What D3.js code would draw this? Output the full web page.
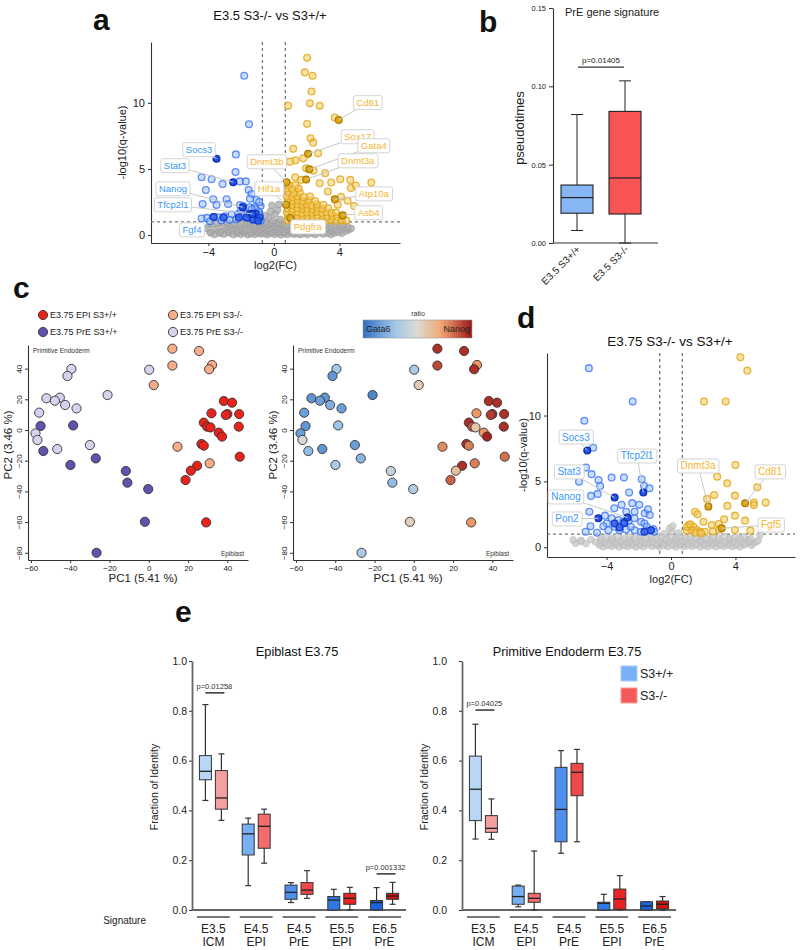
<!DOCTYPE html>
<html>
<head>
<meta charset="utf-8">
<script src="https://cdn.jsdelivr.net/npm/d3@7"></script>
<style>
  body { margin: 0; background: #fff; }
  text { font-family: "Liberation Sans", Arial, sans-serif; }
</style>
</head>
<body>
<svg id="fig" width="800" height="950"></svg>
<script>
// ---------- panel a : volcano E3.5 ----------
const volcAGray = [
  [-3.62,0.04],[-3.05,0.07],[-2.48,0.03],[-2.02,0.06],[-1.58,0.02],[-1.18,0.05],[-0.79,0.08],[-0.41,0.03],[0.02,0.06],[0.43,0.02],[0.81,0.05],[1.22,0.07],[1.63,0.03],[2.04,0.05],[2.52,0.04],[3.01,0.08],[3.48,0.05],
  [-3.85,0.15],[-3.3,0.13],[-2.75,0.17],[-2.25,0.14],[-1.8,0.16],[-1.4,0.12],[-1.0,0.17],[-0.6,0.14],[-0.2,0.16],[0.22,0.13],[0.62,0.17],[1.02,0.15],[1.42,0.12],[1.85,0.16],[2.3,0.14],[2.75,0.17],[3.22,0.13],[3.7,0.16],[4.15,0.14],
  [-3.92,0.27],[-3.31,0.22],[-2.77,0.29],[-2.23,0.24],[-1.82,0.28],[-1.39,0.21],[-0.98,0.26],[-0.61,0.3],[-0.18,0.23],[0.21,0.27],[0.62,0.22],[1.03,0.29],[1.41,0.24],[1.88,0.26],[2.39,0.21],[2.93,0.28],[3.42,0.25],[3.91,0.22],[4.38,0.3],
  [-3.7,0.4],[-3.2,0.38],[-2.7,0.42],[-2.25,0.37],[-1.75,0.41],[-1.3,0.39],[-0.88,0.43],[-0.45,0.38],[-0.05,0.41],[0.35,0.37],[0.75,0.42],[1.15,0.39],[1.58,0.41],[2.05,0.38],[2.55,0.42],[3.05,0.37],[3.55,0.4],[4.05,0.43],[4.55,0.38],
  [-4.12,0.52],[-3.48,0.47],[-2.97,0.55],[-2.51,0.49],[-1.98,0.53],[-1.52,0.46],[-1.08,0.51],[-0.69,0.56],[-0.27,0.48],[0.12,0.53],[0.48,0.47],[0.92,0.55],[1.31,0.5],[1.79,0.46],[2.28,0.54],[2.81,0.49],[3.32,0.52],[3.79,0.47],[4.31,0.55],[4.72,0.5],
  [-3.95,0.64],[-3.35,0.62],[-2.8,0.66],[-2.3,0.61],[-1.8,0.65],[-1.35,0.63],[-0.95,0.67],[-0.55,0.62],[-0.12,0.65],[0.28,0.61],[0.68,0.66],[1.08,0.63],[1.5,0.65],[1.98,0.62],[2.48,0.66],[2.98,0.61],[3.48,0.64],[3.98,0.67],[4.5,0.63],
  [-3.78,0.77],[-3.18,0.72],[-2.62,0.79],[-2.08,0.74],[-1.61,0.78],[-1.19,0.71],[-0.82,0.76],[-0.38,0.8],[0.03,0.73],[0.41,0.78],[0.79,0.74],[1.22,0.79],[1.71,0.72],[2.19,0.77],[2.72,0.74],[3.18,0.79],[3.71,0.73],[4.22,0.78],
  [-3.45,0.88],[-2.42,0.86],[-1.78,0.9],[-1.18,0.87],[-0.7,0.91],[-0.3,0.86],[0.1,0.89],[0.5,0.88],
  [-2.83,0.95],[-2.02,0.92],[-1.41,0.97],[-0.91,0.94],[-0.48,0.98],[-0.12,0.93],[0.29,0.96],
  [-0.31,1.32],[0.08,1.61],[-0.12,2.25],[0.22,1.88],[-0.52,1.48],[0.39,1.19],[-0.21,1.79],[0.31,2.32],[-0.05,1.1]
];
const volcADown = [
  [-1.81,12.05],[-1.52,8.38],[-2.32,6.1],[-2.34,4.77],[-2.07,4.06],[-1.71,4.06],[-4.41,4.37],[-3.8,4.22],[-3.13,3.86],[-4.15,3.41],
  [-1.54,3.41],[-1.36,3.1],[-1.06,2.65],[-1.46,2.75],[-3.7,2.7],[-2.89,2.7],[-2.79,2.35],[-4.35,2.35],[-3.5,2.27],[-2.07,2.27],
  [-1.87,2.2],[-1.46,2.1],[-1.16,2.1],[-0.81,2.2],[-0.94,1.77],[-1.26,1.7],[-1.67,1.6],[-2.17,1.6],[-2.58,1.55],[-2.99,1.42],
  [-3.4,1.35],[-3.7,1.37],[-4.1,1.3],[-4.41,1.25],[-3.9,1.05],[-0.85,1.5],[-1.0,1.25],[-0.8,1.1],[-1.3,1.15],[-1.55,1.3],
  [-2.3,1.2],[-2.7,1.15],[-3.2,1.1],[-1.9,1.45],[-0.9,2.5],[-1.1,1.95],[-1.35,1.95],[-2.0,1.9]
];
const volcADownStrong = [[-3.67,1.37],[-3.08,1.33],[-2.14,1.33],[-1.48,1.58],[-1.12,1.63],[-0.87,1.33],[-1.27,1.2],[-1.67,1.33],[-0.97,1.08]];
const volcAUp = [
  [2.03,13.4],[1.89,12.3],[2.36,12.05],[2.3,10.86],[2.2,9.97],[2.8,9.77],[0.87,9.77],[2.03,8.41],[3.72,8.89],[2.24,7.32],
  [2.4,6.99],[1.18,6.52],[2.7,6.19],[1.8,5.8],[1.32,5.65],[0.99,5.55],[1.97,5.05],[2.42,4.87],[3.13,4.67],[4.05,4.22],
  [4.66,4.17],[1.3,4.37],[1.67,4.17],[2.8,3.92],[3.5,3.97],[4.7,3.55],[5.0,3.74],[5.95,3.97],[3.3,3.3],[4.1,2.9],[4.5,2.6],[4.9,2.2],[3.9,2.3],
  [0.81,1.08],[1.12,1.12],[1.43,1.06],[1.71,1.13],[2.02,1.09],[2.31,1.14],[2.62,1.07],[2.91,1.11],[3.22,1.08],[3.51,1.13],[3.82,1.06],[4.11,1.12],[4.42,1.09],
  [0.86,1.38],[1.16,1.42],[1.47,1.36],[1.74,1.43],[2.06,1.39],[2.37,1.41],[2.66,1.37],[2.97,1.44],[3.26,1.38],[3.57,1.42],[3.86,1.36],[4.18,1.41],
  [0.79,1.72],[1.11,1.68],[1.42,1.73],[1.69,1.67],[2.01,1.71],[2.32,1.69],[2.61,1.74],[2.92,1.68],[3.21,1.72],[3.52,1.67],[3.79,1.71],
  [0.84,2.02],[1.14,1.97],[1.46,2.03],[1.76,1.98],[2.04,2.01],[2.36,1.96],[2.66,2.04],[2.96,1.99],[3.31,2.02],
  [0.81,2.31],[1.09,2.27],[1.41,2.33],[1.72,2.28],[2.01,2.32],[2.29,2.26],[2.62,2.31],[3.02,2.29],
  [0.86,2.62],[1.17,2.57],[1.46,2.63],[1.77,2.58],[2.12,2.61],[2.51,2.57],
  [0.79,2.91],[1.12,2.87],[1.41,2.93],[1.82,2.88],[2.21,2.92],
  [0.87,3.22],[1.21,3.17],[1.58,3.21],[0.81,3.52],[1.12,3.48],[1.51,3.53],[0.91,3.81],[1.31,3.77]
];
// gene, point (x,y), label position (lx,ly) in data units
const volcALabels = [
  {gene:"Cd81",    x:3.96,  y:8.71, lx:5.73,  ly:10.0},
  {gene:"Sox17",   x:2.09,  y:6.14, lx:5.12,  ly:7.42},
  {gene:"Gata4",   x:2.16,  y:4.97, lx:6.1,   ly:6.74},
  {gene:"Dnmt3a",  x:1.97,  y:4.2,  lx:5.12,  ly:5.6},
  {gene:"Atp10a",  x:3.72,  y:2.7,  lx:6.1,   ly:3.1},
  {gene:"Asb4",    x:4.2,   y:1.5,  lx:5.79,  ly:1.67},
  {gene:"Pdgfra",  x:1.0,   y:1.3,  lx:2.07,  ly:0.6},
  {gene:"Hif1a",   x:0.75,  y:2.3,  lx:-0.3,  ly:3.48},
  {gene:"Dnmt3b",  x:0.78,  y:4.0,  lx:-0.43, ly:5.53},
  {gene:"Socs3",   x:-3.5,  y:5.78, lx:-4.57, ly:6.44},
  {gene:"Stat3",   x:-2.48, y:4.0,  lx:-6.04, ly:5.23},
  {gene:"Nanog",   x:-1.9,  y:2.1,  lx:-6.16, ly:3.48},
  {gene:"Tfcp2l1", x:-1.3,  y:1.6,  lx:-6.16, ly:2.27},
  {gene:"Fgf4",    x:-3.0,  y:0.6,  lx:-5.0,  ly:0.38}
];

// ---------- panel b : PrE gene signature ----------
const bGroups = ["E3.5 S3+/+", "E3.5 S3-/-"];
const bStats = [              // [min, q1, median, q3, max]
  [0.008, 0.019, 0.029, 0.037, 0.082],
  [0.0, 0.0185, 0.0415, 0.084, 0.1035]
];
const bPValue = {label: "p=0.01405", y: 0.1123};

// ---------- panel c : PCA ----------
const pcaGroups = ["E3.75 EPI S3+/+", "E3.75 EPI S3-/-", "E3.75 PrE S3+/+", "E3.75 PrE S3-/-"];
const pcaPC1 = [
  38.2,42.4,31.9,40.0,39.2,46.0,28.0,29.7,31.4,45.8,35.6,37.3,26.8,28.0,46.3,24.6,21.4,18.7,29.2,
  12.0,25.6,12.0,32.2,30.7,2.5,14.6,31.0,
  -55.1,-38.5,-53.7,-39.9,-27.0,-11.7,-10.9,-0.3,-2.0,-26.6,
  -39.4,-41.4,-52.1,-45.3,-47.8,-42.6,-36.8,-21.0,-55.8,-57.7,-56.7,-46.6,-30.0,0.2
];
const pcaPC2 = [
  18.9,17.8,10.9,10.4,9.8,10.4,4.8,2.2,1.7,2.2,-1.7,-4.3,-9.1,-10.2,-17.4,-23.3,-26.5,-32.6,-60.2,
  53.0,51.5,42.0,42.4,39.6,29.3,-10.9,-21.7,
  2.6,3.0,-13.7,-22.8,-18.5,-26.7,-34.3,-38.5,-59.8,-80.0,
  39.8,35.2,20.7,21.1,19.1,16.3,14.1,22.8,11.3,-2.2,-6.5,-12.4,-9.8,39.3
];
const pcaGroup = [
  0,0,0,0,0,0,0,0,0,0,0,0,0,0,0,0,0,0,0,
  1,1,1,1,1,1,1,1,
  2,2,2,2,2,2,2,2,2,2,
  3,3,3,3,3,3,3,3,3,3,3,3,3,3
];
// Nanog/Gata6 ratio, -1 = Gata6, +1 = Nanog
const pcaRatio = [
  0.9,0.9,0.5,0.9,0.85,0.9,0.9,0.75,0.2,0.9,0.5,0.95,0.9,0.6,0.65,0.9,0.25,0.7,0.5,
  0.9,0.9,0.8,0.5,0.9,0.15,0.55,0.6,
  -0.75,-0.45,-0.5,-0.35,-0.55,-0.15,-0.5,-0.3,0.1,-0.35,
  -0.4,-0.75,-0.75,-0.75,-0.7,-0.6,-0.7,-0.85,-0.7,-0.7,-0.05,-0.75,-0.7,-0.35
];

// ---------- panel d : volcano E3.75 ----------
const volcDGray = [
  [-4.21,0.04],[-3.68,0.07],[-3.22,0.03],[-2.71,0.06],[-2.19,0.02],[-1.72,0.05],[-1.18,0.08],[-0.71,0.03],[-0.22,0.06],[0.31,0.02],[0.79,0.05],[1.32,0.07],[1.81,0.03],[2.28,0.05],[2.79,0.04],[3.31,0.08],[3.82,0.05],[4.28,0.03],
  [-4.45,0.17],[-3.95,0.15],[-3.45,0.18],[-2.95,0.14],[-2.45,0.17],[-1.95,0.15],[-1.45,0.18],[-0.95,0.14],[-0.45,0.17],[0.05,0.15],[0.55,0.18],[1.05,0.14],[1.55,0.17],[2.05,0.15],[2.55,0.18],[3.05,0.14],[3.55,0.17],[4.05,0.15],[4.55,0.18],[5.0,0.15],
  [-5.92,0.31],[-5.28,0.27],[-4.41,0.33],[-3.88,0.28],[-3.42,0.32],[-2.91,0.26],[-2.38,0.31],[-1.92,0.29],[-1.41,0.33],[-0.88,0.27],[-0.42,0.3],[0.12,0.28],[0.61,0.32],[1.09,0.27],[1.62,0.31],[2.11,0.29],[2.58,0.33],[3.12,0.27],[3.61,0.3],[4.09,0.32],[4.62,0.28],[5.11,0.31],
  [-5.6,0.43],[-4.7,0.41],[-4.15,0.44],[-3.62,0.4],[-3.15,0.43],[-2.65,0.41],[-2.15,0.45],[-1.65,0.4],[-1.15,0.43],[-0.65,0.42],[-0.15,0.44],[0.35,0.4],[0.85,0.43],[1.35,0.41],[1.85,0.45],[2.35,0.4],[2.85,0.43],[3.35,0.41],[3.85,0.44],[4.35,0.4],[4.85,0.43],[5.3,0.41],
  [-6.08,0.56],[-5.58,0.52],[-4.98,0.58],[-4.31,0.53],[-3.71,0.57],[-3.08,0.51],[-2.52,0.56],[-1.88,0.53],[-1.31,0.58],[-0.79,0.52],[-0.28,0.55],[0.21,0.57],[0.72,0.52],[1.19,0.56],[1.82,0.53],[2.41,0.58],[2.98,0.52],[3.62,0.56],[4.18,0.54],[4.81,0.57],[5.42,0.53],
  [-4.35,0.68],[-3.65,0.7],[-2.95,0.66],[-2.25,0.69],[-1.55,0.67],[-0.9,0.7],[-0.3,0.66],[0.3,0.69],[0.9,0.67],[1.55,0.7],[2.25,0.66],[2.95,0.69],[3.65,0.67],[4.3,0.7],[4.95,0.66],
  [-4.02,0.79],[-3.31,0.82],[-2.58,0.77],[-1.91,0.81],[-1.22,0.78],[-0.61,0.83],[0.02,0.79],[0.58,0.82],[1.21,0.77],[1.88,0.81],[2.62,0.78],[3.31,0.82],[3.98,0.77],[4.52,0.8],
  [0.05,1.21],[-0.08,1.45],[0.11,1.62],[0.48,1.09],[-0.41,1.04],[5.52,0.94]
];
const volcDDown = [
  [-5.1,13.6],[-2.38,11.06],[-5.38,9.61],[-4.83,7.56],[-5.28,6.05],[-4.93,5.55],[-5.71,4.98],[-4.5,5.1],[-4.4,4.65],[-3.69,5.3],
  [-2.92,5.3],[-4.55,4.05],[-4.97,3.9],[-2.6,4.15],[-1.82,5.16],[-1.67,4.65],[-1.34,4.48],[-5.07,2.7],[-4.1,2.4],[-3.52,2.96],
  [-3.07,3.22],[-2.41,3.35],[-1.97,3.22],[-2.78,2.7],[-2.26,2.7],[-1.63,2.58],[-1.43,2.88],[-1.32,2.45],[-3.68,2.2],[-3.27,2.07],
  [-2.96,1.94],[-2.64,2.0],[-2.27,2.2],[-1.86,1.94],[-1.65,1.8],[-1.51,1.56],[-1.1,1.39],[-1.04,1.18],[-3.99,1.8],[-4.2,1.6],
  [-5.0,1.6],[-5.3,1.18],[-3.5,1.56],[-2.78,1.34],[-2.26,1.29],[-1.86,1.18],[-1.45,1.25],[-3.89,1.29],[-3.2,1.3],[-2.5,1.55],[-4.6,1.1]
];
const volcDDownStrong = [[-2.9,1.85],[-3.5,1.8],[-1.65,1.18],[-1.24,1.29],[-3.2,1.5]];
const volcDUp = [
  [4.31,14.43],[4.74,13.41],[2.05,11.06],[3.4,11.06],[4.0,6.25],[2.87,5.36],[3.49,4.86],[5.36,4.56],[2.68,3.97],[3.97,3.92],
  [2.24,3.67],[5.15,3.39],[5.88,3.39],[5.15,3.2],[3.5,3.14],[1.49,2.7],[1.65,2.5],[3.97,2.4],[2.02,1.94],[2.53,1.69],
  [2.97,1.77],[3.3,2.13],[4.6,2.02],[4.93,1.26],[1.12,1.69],[1.39,1.56],[1.25,1.31],[0.98,1.26],[1.6,1.31],[1.8,1.18],
  [2.1,1.18],[3.97,1.31],[1.5,1.1],[1.88,1.06],[1.0,1.55],[1.2,1.75],[2.6,1.2],[3.0,1.35]
];
const volcDLabels = [
  {gene:"Socs3",   x:-5.2,  y:7.34, lx:-5.9,  ly:8.37},
  {gene:"Stat3",   x:-3.5,  y:3.77, lx:-6.33, ly:5.72},
  {gene:"Nanog",   x:-2.7,  y:2.25, lx:-6.52, ly:3.82},
  {gene:"Pon2",    x:-4.51, y:2.2,  lx:-6.46, ly:2.15},
  {gene:"Tfcp2l1", x:-1.72, y:4.15, lx:-2.11, ly:6.93},
  {gene:"Dnmt3a",  x:2.32,  y:3.09, lx:1.68,  ly:6.17},
  {gene:"Cd81",    x:4.6,   y:3.34, lx:6.15,  ly:5.72},
  {gene:"Fgf5",    x:3.15,  y:1.44, lx:6.21,  ly:1.69}
];

// ---------- panel e : fraction of identity ----------
const sigStage = ["E3.5", "E4.5", "E4.5", "E5.5", "E6.5"];
const sigType  = ["ICM", "EPI", "PrE", "EPI", "PrE"];
const genotypes = ["S3+/+", "S3-/-"];
// [min, q1, median, q3, max] per signature
const epiWT = [[0.44,0.523,0.557,0.62,0.825],[0.098,0.221,0.306,0.345,0.369],[0.03,0.043,0.071,0.10,0.11],[0,0,0.04,0.054,0.083],[0,0,0.03,0.038,0.09]];
const epiKO = [[0.36,0.405,0.45,0.56,0.627],[0.188,0.248,0.336,0.385,0.405],[0.047,0.063,0.08,0.11,0.158],[0,0.023,0.047,0.067,0.091],[0.023,0.043,0.056,0.067,0.111]];
const preWT = [[0.285,0.359,0.485,0.618,0.746],[0.013,0.023,0.054,0.096,0.1],[0.228,0.274,0.404,0.573,0.64],[0,0,0.027,0.031,0.063],[0,0,0.016,0.033,0.033]];
const preKO = [[0.284,0.312,0.328,0.379,0.446],[0,0.031,0.047,0.067,0.237],[0.274,0.459,0.553,0.589,0.645],[0,0.003,0.044,0.084,0.138],[0,0.004,0.023,0.036,0.054]];
const epiPValues = [{group:0, label:"p=0.01258", y:0.872}, {group:4, label:"p=0.001332", y:0.145}];
const prePValues = [{group:0, label:"p=0.04025", y:0.803}];

// ====================================================================
const svg = d3.select("#fig");
const AX = "#333";

function styleAxis(sel, fs) {
  sel.select(".domain").attr("stroke", AX).attr("stroke-width", 1.1);
  sel.selectAll(".tick line").attr("stroke", AX);
  sel.selectAll(".tick text").attr("font-size", fs).attr("fill", "#222")
    .attr("font-family", '"Liberation Sans", Arial, sans-serif');
}

function panelLetter(ch, x, y) {
  svg.append("text").attr("x", x).attr("y", y).text(ch)
    .attr("font-size", 30).attr("font-weight", "bold").attr("fill", "#111");
}

// ---------- volcano ----------
function drawVolcano(cfg) {
  const x = d3.scaleLinear().domain(cfg.xDomain).range(cfg.xRange);
  const y = d3.scaleLinear().domain(cfg.yDomain).range(cfg.yRange);
  const g = svg.append("g");

  g.append("g").attr("transform", `translate(0,${cfg.yRange[0]})`)
    .call(d3.axisBottom(x).tickValues([-4, 0, 4]).tickSize(3).tickSizeOuter(0).tickPadding(2))
    .call(s => styleAxis(s, 11));
  g.append("g").attr("transform", `translate(${cfg.xRange[0]},0)`)
    .call(d3.axisLeft(y).tickValues([0, 5, 10]).tickSize(3).tickSizeOuter(0).tickPadding(3))
    .call(s => styleAxis(s, 11));

  // thresholds
  [-0.7, 0.7].forEach(v => g.append("line")
    .attr("x1", x(v)).attr("x2", x(v)).attr("y1", cfg.yRange[1]).attr("y2", cfg.yRange[0])
    .attr("stroke", "#777").attr("stroke-width", 1.3).attr("stroke-dasharray", "3,3"));
  g.append("line").attr("x1", cfg.xRange[0]).attr("x2", cfg.xRange[1]).attr("y1", y(1)).attr("y2", y(1))
    .attr("stroke", "#777").attr("stroke-width", 1.3).attr("stroke-dasharray", "3,3");

  const r = 3.4;
  g.append("g").selectAll("circle").data(cfg.gray).join("circle")
    .attr("cx", d => x(d[0])).attr("cy", d => y(d[1])).attr("r", r)
    .attr("fill", cfg.grayFill).attr("stroke", cfg.grayStroke).attr("stroke-width", 0.8);
  g.append("g").selectAll("circle").data(cfg.down).join("circle")
    .attr("cx", d => x(d[0])).attr("cy", d => y(d[1])).attr("r", r)
    .attr("fill", "rgba(150,188,255,0.5)").attr("stroke", "rgba(50,110,245,0.75)").attr("stroke-width", 1.3);
  g.append("g").selectAll("circle").data(cfg.downStrong).join("circle")
    .attr("cx", d => x(d[0])).attr("cy", d => y(d[1])).attr("r", r)
    .attr("fill", "rgba(40,90,235,0.8)").attr("stroke", "#1438c8").attr("stroke-width", 1.3);
  g.append("g").selectAll("circle").data(cfg.up).join("circle")
    .attr("cx", d => x(d[0])).attr("cy", d => y(d[1])).attr("r", r)
    .attr("fill", "rgba(246,200,90,0.55)").attr("stroke", "rgba(222,165,25,0.8)").attr("stroke-width", 1.3);

  // labelled genes
  const sig = d => d.y > 1 && Math.abs(d.x) > 0.7;
  g.append("g").selectAll("circle").data(cfg.labels.filter(sig)).join("circle")
    .attr("cx", d => x(d.x)).attr("cy", d => y(d.y)).attr("r", r)
    .attr("fill", d => d.x < 0 ? "#1e50e6" : "#e0a612")
    .attr("stroke", d => d.x < 0 ? "#0b2aa8" : "#a87a00").attr("stroke-width", 1.2);

  g.append("g").selectAll("line").data(cfg.labels).join("line")
    .attr("x1", d => x(d.x)).attr("y1", d => y(d.y))
    .attr("x2", d => x(d.lx)).attr("y2", d => y(d.ly))
    .attr("stroke", "#c8c8c8").attr("stroke-width", 1);

  const lab = g.append("g").selectAll("g").data(cfg.labels).join("g")
    .attr("transform", d => `translate(${x(d.lx)},${y(d.ly)})`);
  lab.append("rect").attr("rx", 2).attr("fill", "#fff").attr("stroke", "#d4d4d4").attr("stroke-width", 1);
  lab.append("text").text(d => d.gene)
    .attr("text-anchor", "middle").attr("dy", "0.35em").attr("font-size", cfg.labelSize)
    .attr("fill", d => d.x < 0 ? "#3b98f7" : "#f5b530");
  lab.each(function() {
    const t = d3.select(this).select("text").node().getBBox();
    d3.select(this).select("rect")
      .attr("x", t.x - 3).attr("y", t.y - 1.5).attr("width", t.width + 6).attr("height", t.height + 3);
  });

  g.append("text").attr("x", cfg.titleX).attr("y", cfg.titleY).attr("text-anchor", "middle")
    .attr("font-size", cfg.titleSize).attr("fill", "#111").text(cfg.title);
  g.append("text").attr("x", (cfg.xRange[0] + cfg.xRange[1]) / 2).attr("y", cfg.yRange[0] + 26)
    .attr("text-anchor", "middle").attr("font-size", 11).attr("fill", "#222").text("log2(FC)");
  const my = (cfg.yRange[0] + cfg.yRange[1]) / 2;
  g.append("text").attr("transform", `translate(${cfg.yLabelX},${my}) rotate(-90)`)
    .attr("text-anchor", "middle").attr("font-size", 11).attr("fill", "#222").text("-log10(q-value)");
}

drawVolcano({
  xDomain: [-7.5, 7.7], xRange: [151, 400],
  yDomain: [-0.6, 14.6], yRange: [243, 42],
  gray: volcAGray, grayFill: "rgba(175,175,175,0.8)", grayStroke: "rgba(150,150,150,0.7)",
  down: volcADown, downStrong: volcADownStrong, up: volcAUp, labels: volcALabels,
  labelSize: 9.5, title: "E3.5 S3-/- vs S3+/+", titleX: 270, titleY: 20, titleSize: 13, yLabelX: 126
});
panelLetter("a", 93, 30);

drawVolcano({
  xDomain: [-7.7, 7.7], xRange: [547, 795],
  yDomain: [-0.74, 14.75], yRange: [557, 353],
  gray: volcDGray, grayFill: "rgba(200,200,200,0.75)", grayStroke: "rgba(180,180,180,0.6)",
  down: volcDDown, downStrong: volcDDownStrong, up: volcDUp, labels: volcDLabels,
  labelSize: 10, title: "E3.75 S3-/- vs S3+/+", titleX: 670, titleY: 346, titleSize: 13.5, yLabelX: 527
});
panelLetter("d", 517, 328);

// ---------- panel b ----------
(function() {
  const y = d3.scaleLinear().domain([0, 0.15]).range([243, 8]);
  const x = d3.scalePoint().domain(bGroups).range([577, 625]);
  const g = svg.append("g");
  g.append("g").attr("transform", "translate(553,0)")
    .call(d3.axisLeft(y).tickValues([0, 0.05, 0.10, 0.15]).tickFormat(d3.format(".2f")).tickSize(4).tickSizeOuter(0))
    .call(s => styleAxis(s, 7.5));
  g.append("line").attr("x1", 553).attr("x2", 658).attr("y1", 243).attr("y2", 243).attr("stroke", AX).attr("stroke-width", 1.1);
  const fills = ["#86b6f4", "#f95555"];
  const w = 32;
  bGroups.forEach((k, i) => {
    const s = bStats[i], cx = x(k);
    const bx = g.append("g");
    bx.append("line").attr("x1", cx).attr("x2", cx).attr("y1", y(s[0])).attr("y2", y(s[4])).attr("stroke", "#222");
    [s[0], s[4]].forEach(v => bx.append("line").attr("x1", cx - 6).attr("x2", cx + 6).attr("y1", y(v)).attr("y2", y(v)).attr("stroke", "#222"));
    bx.append("rect").attr("x", cx - w / 2).attr("width", w).attr("y", y(s[3])).attr("height", y(s[1]) - y(s[3]))
      .attr("fill", fills[i]).attr("stroke", "#222").attr("stroke-width", 1.1);
    bx.append("line").attr("x1", cx - w / 2).attr("x2", cx + w / 2).attr("y1", y(s[2])).attr("y2", y(s[2])).attr("stroke", "#222").attr("stroke-width", 1.2);
    g.append("text").attr("transform", `translate(${cx + 4},${250}) rotate(-45)`)
      .attr("text-anchor", "end").attr("font-size", 10).attr("fill", "#222").text(k);
  });
  g.append("line").attr("x1", 578).attr("x2", 624).attr("y1", y(bPValue.y)).attr("y2", y(bPValue.y)).attr("stroke", "#333").attr("stroke-width", 1.2);
  g.append("text").attr("x", 601).attr("y", y(bPValue.y) - 4).attr("text-anchor", "middle")
    .attr("font-size", 8).attr("fill", "#222").text(bPValue.label);
  g.append("text").attr("x", 565).attr("y", 16).attr("font-size", 11).attr("fill", "#222").text("PrE gene signature");
  g.append("text").attr("transform", "translate(524,128) rotate(-90)").attr("text-anchor", "middle")
    .attr("font-size", 13).attr("fill", "#222").text("pseudotimes");
  panelLetter("b", 479, 32);
})();

// ---------- panel c ----------
const pcaFill = ["#e8231c", "#f7ad8a", "#6352ad", "#d6d3ef"];
const ratioColor = d3.scaleLinear()
  .domain([-1, -0.45, 0, 0.45, 1])
  .range(["#2f6fc0", "#9ec5ea", "#dcdad2", "#f2a66e", "#9c1418"]);

function drawPCA(x0, colorOf) {
  const x = d3.scaleLinear().domain([-61.5, 50.5]).range([x0, x0 + 220]);
  const y = d3.scaleLinear().domain([-84.7, 55.4]).range([560, 345]);
  const g = svg.append("g");
  g.append("g").attr("transform", "translate(0,560)")
    .call(d3.axisBottom(x).tickValues([-60, -40, -20, 0, 20, 40]).tickSize(3).tickSizeOuter(0).tickPadding(2))
    .call(s => styleAxis(s, 8));
  g.append("g").attr("transform", `translate(${x0},0)`)
    .call(d3.axisLeft(y).tickValues([-80, -60, -40, -20, 0, 20, 40]).tickSize(3).tickSizeOuter(0))
    .call(s => styleAxis(s, 8))
    .call(s => s.selectAll(".tick text").attr("transform", "rotate(-90)").attr("text-anchor", "middle")
      .attr("x", 0).attr("y", -6).attr("dy", 0));
  g.append("g").selectAll("circle").data(d3.range(pcaPC1.length)).join("circle")
    .attr("cx", i => x(pcaPC1[i])).attr("cy", i => y(pcaPC2[i])).attr("r", 4.6)
    .attr("fill", colorOf).attr("stroke", "#333").attr("stroke-width", 0.9);
  g.append("text").attr("x", x0 + 5).attr("y", 353).attr("font-size", 6.5).attr("fill", "#333").text("Primitive Endoderm");
  g.append("text").attr("x", x0 + 216).attr("y", 556).attr("text-anchor", "end").attr("font-size", 6.5).attr("fill", "#333").text("Epiblast");
  g.append("text").attr("x", x0 + 115).attr("y", 582).attr("text-anchor", "middle").attr("font-size", 11.5).attr("fill", "#222").text("PC1 (5.41 %)");
  g.append("text").attr("transform", `translate(${x0 - 16},445) rotate(-90)`).attr("text-anchor", "middle")
    .attr("font-size", 11.5).attr("fill", "#222").text("PC2 (3.46 %)");
}
drawPCA(28, i => pcaFill[pcaGroup[i]]);
drawPCA(293, i => ratioColor(pcaRatio[i]));
panelLetter("c", 13, 298);

// legend (groups)
(function() {
  const lg = svg.append("g");
  pcaGroups.forEach((k, i) => {
    // row 1: EPI +/+, EPI -/- ; row 2: PrE +/+, PrE -/-
    const lx = i % 2 === 0 ? 43 : 173, ly = i < 2 ? 315 : 332;
    lg.append("circle").attr("cx", lx).attr("cy", ly).attr("r", 4.6).attr("fill", pcaFill[i]).attr("stroke", "#333").attr("stroke-width", 0.9);
    lg.append("text").attr("x", lx + 7).attr("y", ly).attr("dy", "0.35em").attr("font-size", 9).attr("fill", "#222").text(k);
  });
  // ratio colour bar
  const defs = svg.append("defs");
  const grad = defs.append("linearGradient").attr("id", "ratioGrad");
  d3.range(0, 1.0001, 0.1).forEach(t => grad.append("stop").attr("offset", t).attr("stop-color", ratioColor(-1 + 2 * t)));
  lg.append("rect").attr("x", 363).attr("y", 320).attr("width", 109).attr("height", 18).attr("fill", "url(#ratioGrad)")
    .attr("stroke", "#999").attr("stroke-width", 0.6);
  lg.append("text").attr("x", 418).attr("y", 316).attr("text-anchor", "middle").attr("font-size", 7).attr("fill", "#333").text("ratio");
  lg.append("text").attr("x", 366).attr("y", 332).attr("font-size", 9).attr("fill", "#222").text("Gata6");
  lg.append("text").attr("x", 470).attr("y", 332).attr("text-anchor", "end").attr("font-size", 9).attr("fill", "#222").text("Nanog");
})();

// ---------- panel e ----------
const wtFill = ["#b8d7f8", "#78aef2", "#4f90ee", "#2f78e6", "#1d62d8"];
const koFill = ["#f5a0a0", "#f26c6c", "#f04848", "#e82424", "#cc1414"];

function drawBoxPanel(x0, title, wt, ko, pvals, labelGap) {
  const y = d3.scaleLinear().domain([0, 1]).range([910, 661]);
  const x = d3.scaleBand().domain(d3.range(5)).range([x0, x0 + 214]);
  const g = svg.append("g");
  g.append("g").attr("transform", `translate(${x0},0)`)
    .call(d3.axisLeft(y).tickValues([0, 0.2, 0.4, 0.6, 0.8, 1.0]).tickFormat(d3.format(".1f")).tickSize(3).tickSizeOuter(0).tickPadding(labelGap))
    .call(s => styleAxis(s, 10.5))
    .call(s => s.select(".domain").attr("stroke", "#666").attr("stroke-width", 1.8));
  g.append("line").attr("x1", x0).attr("x2", x0 + 214).attr("y1", 910).attr("y2", 910).attr("stroke", "#666").attr("stroke-width", 1.8);
  const w = 12;
  d3.range(5).forEach(i => {
    const c = x(i) + x.bandwidth() / 2;
    [[wt[i], wtFill[i], c - 8], [ko[i], koFill[i], c + 8]].forEach(([s, f, cx]) => {
      const b = g.append("g");
      b.append("line").attr("x1", cx).attr("x2", cx).attr("y1", y(s[0])).attr("y2", y(s[4])).attr("stroke", "#333").attr("stroke-width", 1.2);
      [s[0], s[4]].forEach(v => b.append("line").attr("x1", cx - 3).attr("x2", cx + 3).attr("y1", y(v)).attr("y2", y(v)).attr("stroke", "#333").attr("stroke-width", 1.2));
      b.append("rect").attr("x", cx - w / 2).attr("width", w).attr("y", y(s[3])).attr("height", Math.max(1, y(s[1]) - y(s[3])))
        .attr("fill", f).attr("stroke", "#333").attr("stroke-width", 1);
      b.append("line").attr("x1", cx - w / 2).attr("x2", cx + w / 2).attr("y1", y(s[2])).attr("y2", y(s[2])).attr("stroke", "#222").attr("stroke-width", 1.3);
    });
    g.append("line").attr("x1", x(i) + 5).attr("x2", x(i) + x.bandwidth() - 5).attr("y1", 917).attr("y2", 917)
      .attr("stroke", "#777").attr("stroke-width", 2);
    g.append("text").attr("x", c).attr("y", 933).attr("text-anchor", "middle").attr("font-size", 12)
      .attr("font-family", '"DejaVu Sans", sans-serif').attr("fill", "#222").text(sigStage[i]);
    g.append("text").attr("x", c).attr("y", 946).attr("text-anchor", "middle").attr("font-size", 12)
      .attr("font-family", '"DejaVu Sans", sans-serif').attr("fill", "#222").text(sigType[i]);
  });
  pvals.forEach(p => {
    const c = x(p.group) + x.bandwidth() / 2;
    g.append("line").attr("x1", c - 8).attr("x2", c + 11).attr("y1", y(p.y)).attr("y2", y(p.y)).attr("stroke", "#333").attr("stroke-width", 1.5);
    g.append("text").attr("x", c + 1).attr("y", y(p.y) - 4).attr("text-anchor", "middle").attr("font-size", 7.5)
      .attr("fill", "#333").text(p.label);
  });
  g.append("text").attr("x", x0 + 105).attr("y", 656).attr("text-anchor", "middle").attr("font-size", 12.8)
    .attr("font-family", '"DejaVu Sans", sans-serif').attr("fill", "#111").text(title);
  g.append("text").attr("transform", `translate(${x0 - 34},787) rotate(-90)`).attr("text-anchor", "middle")
    .attr("font-size", 10.5).attr("font-family", '"DejaVu Sans", sans-serif').attr("fill", "#222").text("Fraction of Identity");
}
drawBoxPanel(192, "Epiblast E3.75", epiWT, epiKO, epiPValues, 2);
drawBoxPanel(462, "Primitive Endoderm E3.75", preWT, preKO, prePValues, 12);
svg.append("text").attr("x", 146).attr("y", 924).attr("text-anchor", "end").attr("font-size", 10).attr("fill", "#222").text("Signature");
panelLetter("e", 175, 622);

// legend e
genotypes.forEach((k, i) => {
  svg.append("rect").attr("x", 621).attr("y", 666 + i * 22).attr("width", 16).attr("height", 15)
    .attr("fill", i === 0 ? "#7ab0f5" : "#f55a5a").attr("stroke", i === 0 ? "#a8ccf8" : "#f79a9a");
  svg.append("text").attr("x", 640).attr("y", 674 + i * 22).attr("dy", "0.35em").attr("font-size", 12.5)
    .attr("font-family", '"DejaVu Sans", sans-serif').attr("fill", "#222").text(k);
});
</script>
</body>
</html>
